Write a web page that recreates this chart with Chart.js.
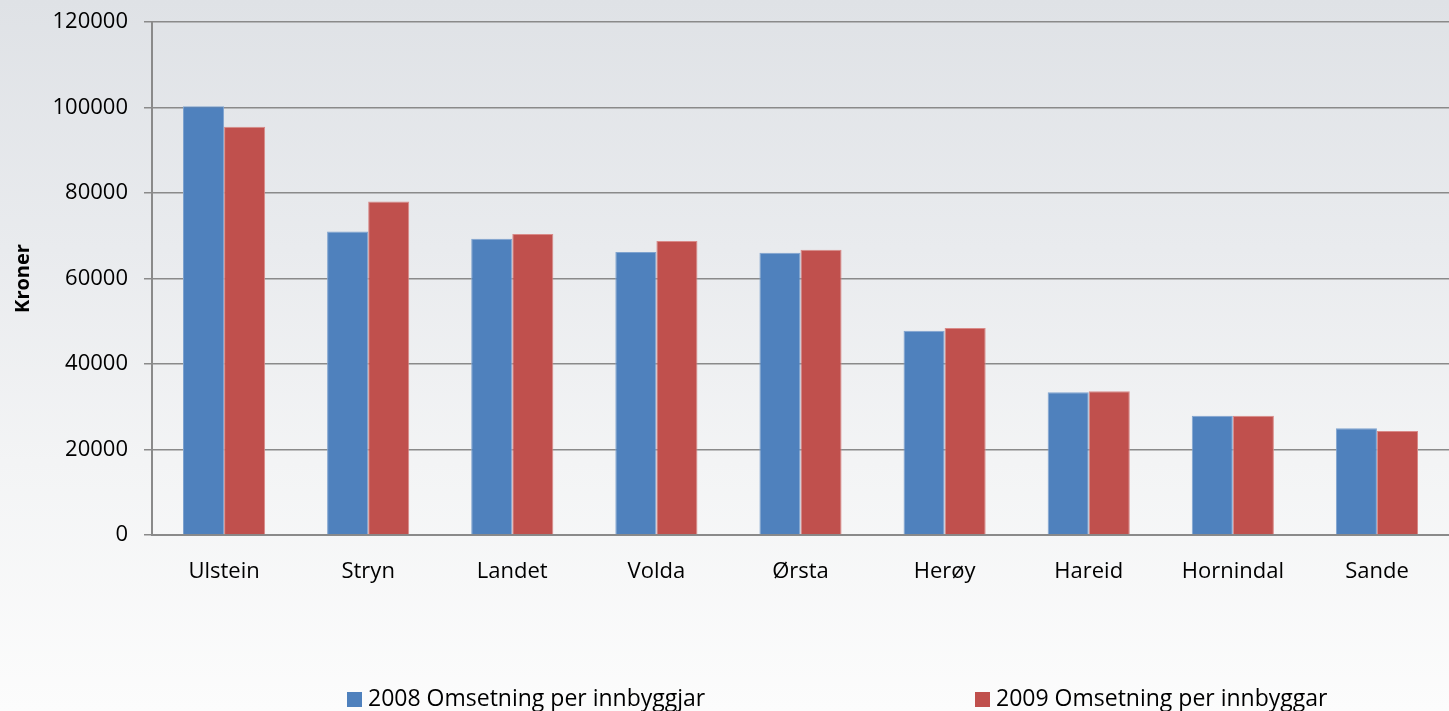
<!DOCTYPE html>
<html>
<head>
<meta charset="utf-8">
<script src="https://cdn.jsdelivr.net/npm/chart.js@4"></script>
<style>
  html, body { margin: 0; padding: 0; }
  body {
    width: 1449px; height: 711px; overflow: hidden;
    background: linear-gradient(to bottom, #dfe2e6 0%, #e9ebee 35%, #f3f4f5 65%, #fcfcfc 100%);
    font-family: 'Open Sans', 'Noto Sans', sans-serif;
  }
  #wrap { position: relative; width: 1449px; height: 711px; }
  .legend-item { position: absolute; top: 683px; font-size: 23px; color: #000; white-space: nowrap; line-height: 28px; }
  .legend-item span { display: inline-block; width: 15px; height: 15px; margin-right: 6px; vertical-align: -1px; }
</style>
</head>
<body>
<div id="wrap">
  <canvas id="kroner_chart"></canvas>
  <div id="legend"></div>
</div>
<script>
// kommunar og verdiar lest av figuren
const kommunar = ['Ulstein', 'Stryn', 'Landet', 'Volda', 'Ørsta', 'Herøy', 'Hareid', 'Hornindal', 'Sande'];
const omsetning2008 = [100300, 71000, 69300, 66200, 66000, 47800, 33400, 27900, 25000];
const omsetning2009 = [95500, 78000, 70400, 68800, 66700, 48400, 33600, 27900, 24300];
const serieNamn = ['2008 Omsetning per innbyggjar', '2009 Omsetning per innbyggar'];
const yTicks = [0, 20000, 40000, 60000, 80000, 100000, 120000];

const fontFamily = "'Open Sans', 'Noto Sans', sans-serif";
const gridColor = '#8a8a8a';

const data = {
  labels: kommunar,
  datasets: [{
    label: serieNamn[0],
    data: omsetning2008,
    backgroundColor: '#4f81bd',
    borderColor: '#7fa3cf',
    borderWidth: 1,
    categoryPercentage: 0.57,
    barPercentage: 1.0
  }, {
    label: serieNamn[1],
    data: omsetning2009,
    backgroundColor: '#c0504d',
    borderColor: '#d98a88',
    borderWidth: 1,
    categoryPercentage: 0.57,
    barPercentage: 1.0
  }]
};

const config = {
  type: 'bar',
  data,
  options: {
    responsive: false,
    animation: false,
    layout: { padding: { top: 22, right: 0, bottom: 106, left: 0 } },
    plugins: {
      tooltip: { enabled: false },
      legend: { display: false }
    },
    scales: {
      x: {
        grid: { display: false },
        border: { display: true, color: gridColor, width: 2 },
        ticks: { font: { family: fontFamily, size: 22 }, color: '#000', padding: 16 },
        afterFit: function (scale) { scale.height = 70; }
      },
      y: {
        min: 0,
        max: 120000,
        afterBuildTicks: function (scale) {
          scale.ticks = yTicks.map(v => ({ value: v }));
        },
        grid: { color: gridColor, lineWidth: 1.5, tickLength: 8, drawTicks: true },
        border: { display: true, color: gridColor, width: 2 },
        ticks: {
          font: { family: fontFamily, size: 22 },
          color: '#000',
          padding: 16,
          callback: function (value) { return String(value); }
        },
        title: {
          display: true,
          text: 'Kroner',
          font: { family: fontFamily, size: 20, weight: 'bold' },
          color: '#000',
          padding: { top: 11, bottom: 0 }
        },
        afterFit: function (scale) {
          scale.width = 152;
          scale.paddingTop = 0;
          scale.paddingBottom = 0;
        }
      }
    }
  }
};

const canvas = document.getElementById('kroner_chart');
canvas.width = 1449;
canvas.height = 711;
const kroner_chart = new Chart(canvas, config);

// legend som tekst, plassert lik originalen
const legendLeft = [347, 975];
const legendBox = document.getElementById('legend');
kroner_chart.data.datasets.forEach(function (ds, i) {
  const div = document.createElement('div');
  div.className = 'legend-item';
  div.style.left = legendLeft[i] + 'px';
  div.innerHTML = '<span style="background:' + ds.backgroundColor + '"></span>' + ds.label;
  legendBox.appendChild(div);
});
</script>
</body>
</html>
